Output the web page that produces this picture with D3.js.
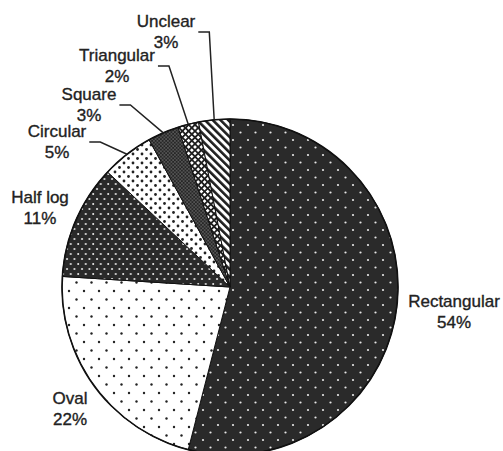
<!DOCTYPE html>
<html>
<head>
<meta charset="utf-8">
<script src="https://cdn.jsdelivr.net/npm/d3@7"></script>
<style>
  body { margin: 0; background: #fff; }
  svg text { font-family: "Liberation Sans", Arial, sans-serif; font-size: 17px; fill: #222; stroke: #222; stroke-width: 0.35px; }
</style>
</head>
<body>
<svg id="chart" width="503" height="451"></svg>
<script>
// slice names and their shares (percent), clockwise from 12 o'clock
const categories = ["Rectangular", "Oval", "Half log", "Circular", "Square", "Triangular", "Unclear"];
const shares = [54, 22, 11, 5, 3, 2, 3];
const percentLabels = ["54%", "22%", "11%", "5%", "3%", "2%", "3%"];

// label layout (centre x, first baseline) and which labels get a leader line
const labelAnchor = [[454, 307], [70, 404], [40, 203], [57, 137], [89, 100], [117, 61], [166, 27]];
const hasLeader = [false, false, false, true, true, true, true];
const patternIds = ["pRect", "pOval", "pHalf", "pCirc", "pSquare", "pTri", "pUnclear"];

let svg = d3.select("#chart");
let cx = 230, cy = 287, radius = 168;
let dark = "#2a2a2a";

// fill patterns that imitate the printed screens
let defs = svg.append("defs");

function dotPattern(id, w, h, bg, dot, r, pts) {
  let p = defs.append("pattern")
    .attr("id", id)
    .attr("patternUnits", "userSpaceOnUse")
    .attr("width", w)
    .attr("height", h);
  p.append("rect").attr("width", w).attr("height", h).attr("fill", bg);
  pts.forEach(function (q) {
    p.append("circle").attr("cx", q[0]).attr("cy", q[1]).attr("r", r).attr("fill", dot);
  });
}

dotPattern("pRect", 15, 15, dark, "#e6e6e6", 1.1, [[3, 3], [10.5, 10.5]]);
dotPattern("pOval", 15, 17, "#fff", "#222", 1.2, [[4, 4], [11.5, 12.5]]);
dotPattern("pHalf", 7.5, 10, dark, "#f0f0f0", 1.0, [[2, 2], [5.75, 7]]);
dotPattern("pCirc", 9, 9, "#fff", "#222", 1.4, [[2, 2], [6.5, 6.5]]);
dotPattern("pSquare", 3.5, 3.5, "#262626", "#9a9a9a", 0.65, [[0.9, 0.9], [2.65, 2.65]]);

let tri = defs.append("pattern")
  .attr("id", "pTri")
  .attr("patternUnits", "userSpaceOnUse")
  .attr("width", 4.5)
  .attr("height", 4.5)
  .attr("patternTransform", "rotate(45)");
tri.append("rect").attr("width", 4.5).attr("height", 4.5).attr("fill", "#1e1e1e");
tri.append("rect").attr("x", 0.9).attr("y", 0.9).attr("width", 2.7).attr("height", 2.7).attr("fill", "#fff");

let stripes = defs.append("pattern")
  .attr("id", "pUnclear")
  .attr("patternUnits", "userSpaceOnUse")
  .attr("width", 5.5)
  .attr("height", 5.5)
  .attr("patternTransform", "rotate(-45)");
stripes.append("rect").attr("width", 5.5).attr("height", 5.5).attr("fill", "#fff");
stripes.append("rect").attr("width", 2.6).attr("height", 5.5).attr("fill", "#1e1e1e");

// pie layout, clockwise from the top, keep data order
let pie = d3.pie().sort(null).value(function (d) { return d; });
let arcs = pie(shares);

let arc = d3.arc().innerRadius(0).outerRadius(radius);
let rim = d3.arc().innerRadius(radius).outerRadius(radius);

let g = svg.append("g").attr("transform", `translate(${cx},${cy})`);

g.selectAll(".slice")
  .data(arcs)
  .enter()
  .append("path")
  .attr("class", "slice")
  .attr("d", arc)
  .attr("fill", function (d, i) { return `url(#${patternIds[i]})`; })
  .attr("stroke", "#111")
  .attr("stroke-width", 1);

// outline of the whole pie
g.append("circle")
  .attr("r", radius)
  .attr("fill", "none")
  .attr("stroke", "#111")
  .attr("stroke-width", 1.6);

// labels, two lines each
let labels = svg.selectAll(".lab")
  .data(arcs)
  .enter()
  .append("g")
  .attr("class", "lab");

labels.append("text")
  .attr("class", "name")
  .attr("x", function (d, i) { return labelAnchor[i][0]; })
  .attr("y", function (d, i) { return labelAnchor[i][1]; })
  .attr("text-anchor", "middle")
  .text(function (d, i) { return categories[i]; });

labels.append("text")
  .attr("x", function (d, i) { return labelAnchor[i][0]; })
  .attr("y", function (d, i) { return labelAnchor[i][1] + 21; })
  .attr("text-anchor", "middle")
  .text(function (d, i) { return percentLabels[i]; });

// elbow leader lines for the thin slices
labels.filter(function (d, i) { return hasLeader[i]; })
  .each(function (d) {
    let i = arcs.indexOf(d);
    let t = d3.select(this).select("text.name").node();
    let x0 = labelAnchor[i][0] + t.getComputedTextLength() / 2 + 3;
    let y0 = labelAnchor[i][1] + 5;
    let end = rim.centroid(d);
    let pts = [[x0, y0], [x0 + 11, y0], [end[0] + cx, end[1] + cy]];
    d3.select(this).append("path")
      .attr("d", d3.line()(pts))
      .attr("fill", "none")
      .attr("stroke", "#222")
      .attr("stroke-width", 1.5);
  });
</script>
</body>
</html>
